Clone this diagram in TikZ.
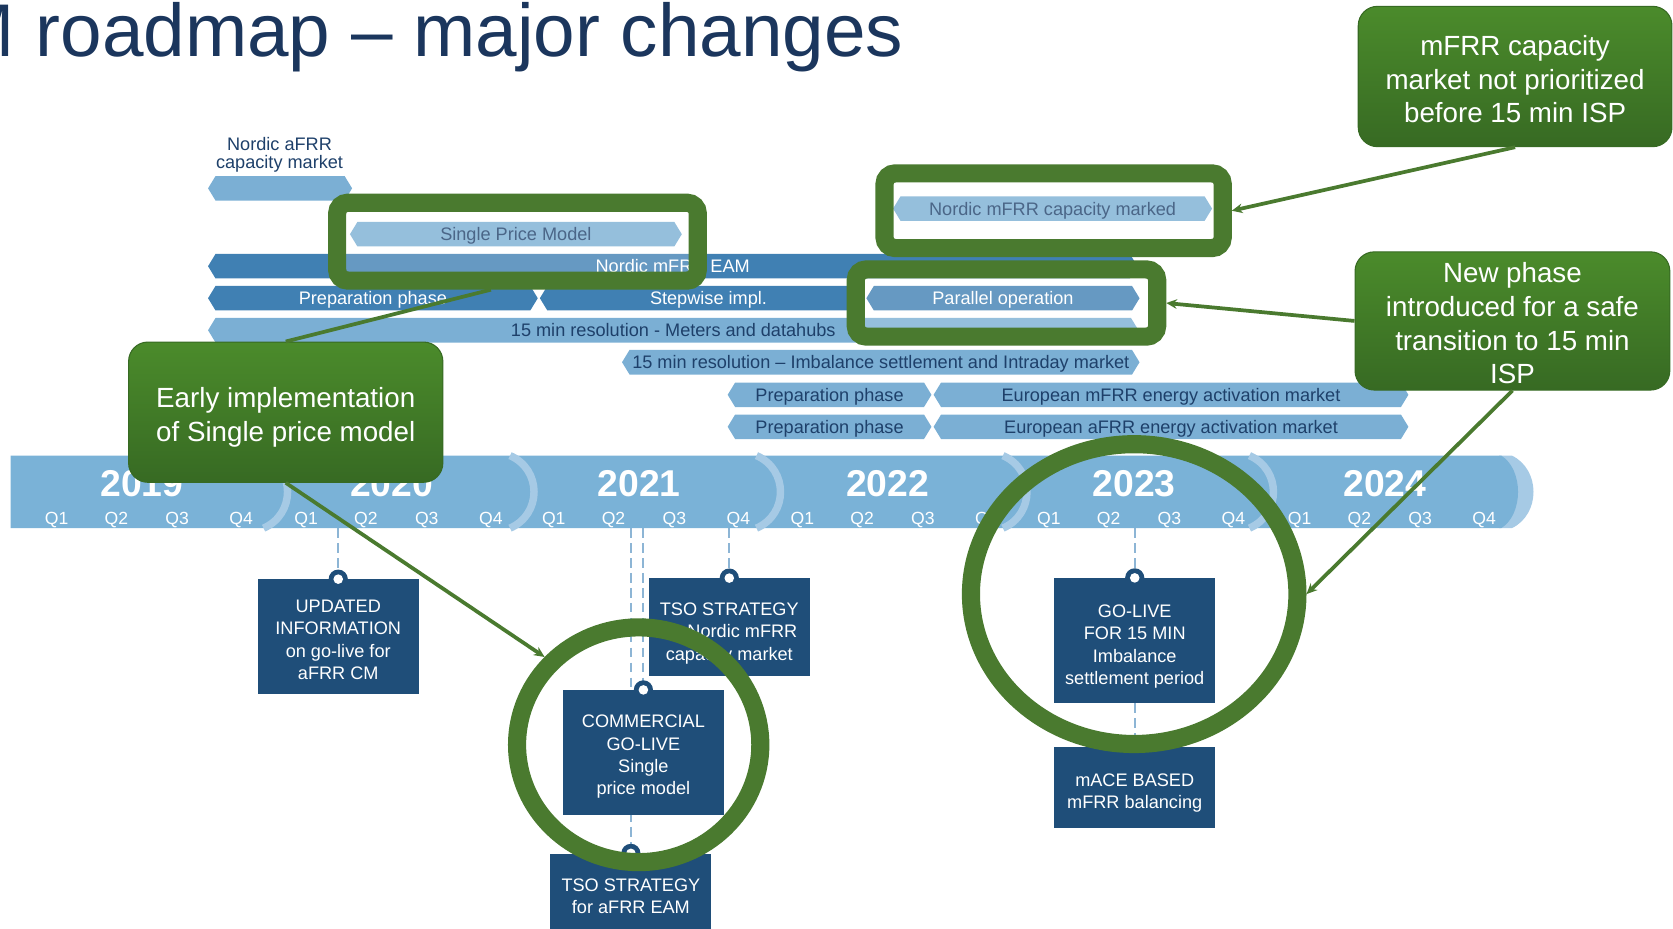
\documentclass[tikz,border=0pt]{standalone}
\usepackage{fontspec}
\setmainfont{Liberation Sans}
\usetikzlibrary{shapes.geometric,arrows.meta,backgrounds}

\definecolor{titlenavy}{HTML}{1B365D}
\definecolor{barlight}{HTML}{7BAFD4}
\definecolor{bardark}{HTML}{4080B3}
\definecolor{bartxt}{HTML}{1E406A}
\definecolor{bandblue}{HTML}{7AB2D7}
\definecolor{bandsep}{HTML}{A6CAE5}
\definecolor{boxnavy}{HTML}{1F4E79}
\definecolor{pinblue}{HTML}{8DB5D5}
\definecolor{hlgreen}{HTML}{4A7A2F}
\definecolor{calltop}{HTML}{4B8B2B}
\definecolor{callbot}{HTML}{376A23}

% bar with pointed ends: [node options]{name}{x1}{x2}{top y}{fill}{text}
\newcommand{\phasebar}[7][]{%
  \fill[#6] (#3,#5+11.5) -- (#3+7,#5) -- (#4-7,#5) -- (#4,#5+11.5)
    -- (#4-7,#5+23) -- (#3+7,#5+23) -- cycle;
  \node[bartext,#1] (#2) at ({(#3+#4)/2},#5+11.5) {#7};
}

\begin{document}
\begin{tikzpicture}[x=1pt, y=-1pt,
  bartext/.style={inner sep=0pt, text=bartxt, text height=12.2pt, text depth=0pt,
    font=\fontsize{17}{17}\selectfont},
  hiframe/.style={draw=hlgreen, line width=17pt, rounded corners=10pt,
    fill=white, fill opacity=0.2, inner sep=0pt},
  ring/.style={ellipse, draw=hlgreen, line width=17pt, inner sep=0pt},
  infobox/.style={fill=boxnavy, text=white, align=center, inner sep=0pt,
    text depth=0pt, minimum width=151pt, font=\fontsize{17}{21}\selectfont},
  pinline/.style={draw=pinblue, line width=2pt, dash pattern=on 9pt off 5pt},
  callline/.style={draw=hlgreen, line width=3.5pt},
  callout/.style={rounded corners=18pt, top color=calltop, bottom color=callbot,
    draw=callbot, line width=1pt, text=white, align=center, inner sep=0pt,
    text depth=0pt, font=\fontsize{26}{31.5}\selectfont},
  yearlabel/.style={text=white, inner sep=0pt, text height=25pt, text depth=0pt,
    font=\fontsize{35}{35}\selectfont\bfseries},
  qlabel/.style={text=white, inner sep=0pt, text height=11.8pt, text depth=0pt,
    font=\fontsize{16.5}{16.5}\selectfont}]

  \useasboundingbox (0,0) rectangle (1568,870);

  % Title, cut at the left edge
  \node[anchor=base east, inner sep=0pt, text=titlenavy,
    font=\fontsize{70}{70}\selectfont] (title) at (847,53) {M roadmap – major changes};

  % Phase bars
  \node[align=center, inner sep=0pt, text=bartxt, font=\fontsize{17}{17}\selectfont]
    (afrrcm) at (262,145) {Nordic aFRR\\capacity market};
  \phasebar{afrrbar}{195}{330}{165}{barlight}{}
  \phasebar{spm}{328}{639}{208}{barlight}{Single Price Model}
  \phasebar{mfrrcm}{837}{1136}{184}{barlight}{Nordic mFRR capacity marked}
  \phasebar[text=white]{eam}{195}{1066}{238}{bardark}{Nordic mFRR EAM}
  \phasebar[text=white]{prep1}{195}{504}{268}{bardark}{Preparation phase}
  \phasebar[text=white,xshift=8pt]{stepwise}{506}{806}{268}{bardark}{Stepwise impl.}
  \phasebar[text=white]{parallel}{812}{1068}{268}{bardark}{Parallel operation}
  \phasebar{meters}{195}{1067}{298}{barlight}{15 min resolution - Meters and datahubs}
  \phasebar{imbalance}{583}{1068}{328}{barlight}{15 min resolution – Imbalance settlement and Intraday market}
  \phasebar{prep2}{682}{873}{358.5}{barlight}{Preparation phase}
  \phasebar{mfrream}{875}{1320}{358.5}{barlight}{European mFRR energy activation market}
  \phasebar{prep3}{682}{873}{388.5}{barlight}{Preparation phase}
  \phasebar{afrream}{875}{1320}{388.5}{barlight}{European aFRR energy activation market}

  % Green frames round the changed bars
  \node[hiframe, minimum width=338pt, minimum height=73pt] (spmframe) at (485,226.5) {};
  \node[hiframe, minimum width=317pt, minimum height=70pt] (mfrrframe) at (987.5,197.5) {};
  \node[hiframe, minimum width=282.5pt, minimum height=63pt] (parframe) at (943.3,284) {};

  % Timeline band with years and quarters
  \fill[bandsep] (1405,427) -- (1417,427) .. controls (1444,440) and (1444,482) .. (1417,495)
    -- (1405,495) -- cycle;
  \fill[bandblue] (10,427) -- (1407,427) .. controls (1428,440) and (1428,482) .. (1407,495)
    -- (10,495) -- cycle;
  \foreach \s in {247,478,709,940,1171}
    \draw[bandsep, line width=7pt] (\s,427) .. controls (\s+30,440) and (\s+30,482) .. (\s,495);
  \coordinate (bandfoot) at (0,495);
  \foreach \yr/\cx in {2019/133,2020/367,2021/599,2022/832,2023/1063,2024/1298} {
    \node[yearlabel] (y\yr) at (\cx,453) {\yr};
    \foreach \q/\dx in {1/-80,2/-24,3/33,4/93}
      \node[qlabel] (q\yr\q) at (\cx+\dx,486) {Q\q};
  }

  % Milestone boxes
  \node[infobox, minimum height=107pt, text height=81pt] (updinfo) at (317,596.5)
    {UPDATED\\INFORMATION\\on go-live for\\aFRR CM};
  \node[infobox, minimum height=92pt, text height=61.5pt] (tsonordic) at (683.5,588)
    {TSO STRATEGY\\for Nordic mFRR\\capacity market};
  \node[infobox, minimum height=117pt, text height=79.5pt] (commgolive) at (603,705.3)
    {COMMERCIAL\\GO-LIVE\\Single\\price model};
  \node[infobox, minimum height=80pt, text height=33.2pt] (tsoafrr) at (591.3,840)
    {TSO STRATEGY\\for aFRR EAM};
  \node[infobox, minimum height=117pt, text height=82.5pt] (golive15) at (1063.5,600.3)
    {GO-LIVE\\FOR 15 MIN\\Imbalance\\settlement period};
  \node[infobox, minimum height=76pt, text height=39.5pt] (macebal) at (1063.5,738)
    {mACE BASED\\mFRR balancing};
  \foreach \bx in {updinfo,tsonordic,commgolive,tsoafrr,golive15} {
    \fill[boxnavy] (\bx.north) circle (9pt);
    \fill[white] (\bx.north) circle (4.5pt);
  }

  % Dashed lines from the band, behind the boxes
  \begin{scope}[on background layer]
    \foreach \bx in {updinfo,tsonordic,commgolive,tsoafrr,golive15}
      \draw[pinline] (\bx.north |- bandfoot) -- (\bx.north);
    \draw[pinline] (golive15.south) -- (macebal.north);
  \end{scope}

  % Green rings
  \node[ring, minimum width=228pt, minimum height=220pt] (ringspm) at (598.6,698) {};
  \node[ring, minimum width=306pt, minimum height=281pt] (ringisp) at (1063,556.8) {};

  % Callouts
  \node[callout, minimum width=294.5pt, minimum height=131.4pt, text height=55pt] (early)
    at (267.8,386.3) {Early implementation\\of Single price model};
  \node[callout, minimum width=294pt, minimum height=131.5pt, text height=87pt] (notprio)
    at (1420,71.7) {mFRR capacity\\market not prioritized\\before 15 min ISP};
  \node[callout, minimum width=295pt, minimum height=129.5pt, text height=117.5pt] (newphase)
    at (1417.5,300.8) {New phase\\introduced for a safe\\transition to 15 min\\ISP};

  % Callout lines
  \draw[callline] (early.north) -- (spmframe.241);
  \draw[callline, -{Stealth[length=10pt,width=9pt]}] (early.south) -- (ringspm.137);
  \draw[callline, -{Stealth[length=10pt,width=9pt]}] (notprio.south) -- (mfrrframe.east);
  \draw[callline, -{Stealth[length=10pt,width=9pt]}] (newphase.west) -- (parframe.east);
  \draw[callline, -{Stealth[length=10pt,width=9pt]}] (newphase.south) -- (ringisp.east);
\end{tikzpicture}
\end{document}
